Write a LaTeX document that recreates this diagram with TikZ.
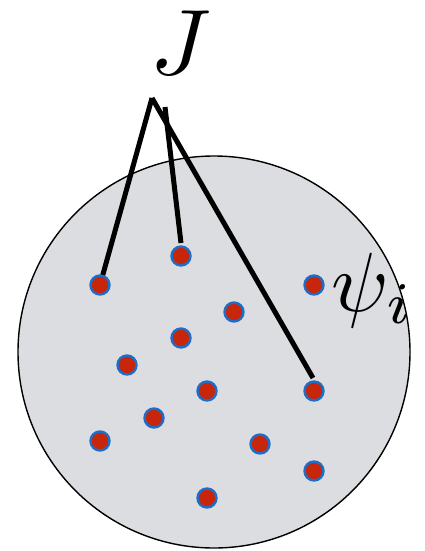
\documentclass[tikz,border=0pt]{standalone}
\usetikzlibrary{calc}
\definecolor{pointred}{RGB}{200,38,10}
\definecolor{pointblue}{RGB}{28,110,200}
\definecolor{ballgray}{RGB}{220,221,224}
\begin{document}
\begin{tikzpicture}[
  x=1pt,y=-1pt,
  point/.style={
    circle,
    fill=pointred,
    draw=pointblue,
    line width=2.4pt,
    minimum size=19pt,
    inner sep=0pt
  },
  link/.style={line width=5pt},
  biglabel/.style={inner sep=0pt}
]
\useasboundingbox (0,0) rectangle (425,551);
\node[circle, draw, fill=ballgray, line width=1.4pt, minimum size=392pt, inner sep=0pt] (ball) at (214,352) {};
% positions of the points
\foreach \px/\py [count=\i] in {100/285, 181/256, 234/312, 314/285, 181/338, 127/365, 207/391, 314/391, 154/418, 100/441, 260/444, 314/471, 207/498}
  \coordinate (c\i) at (\px,\py);
\coordinate (apex) at (152,98);
\coordinate (bend) at (165,107);
\draw[link] (apex) -- (c1);
\draw[link] (bend) -- ($(c2)+(0,-13)$);
\draw[link] (apex) -- ($(c8)+(-1,-13)$);
\foreach \i in {1,...,13}
  \node[point] (p\i) at (c\i) {};
\node[biglabel, scale=9.3] (J) at (181,43) {$J$};
\node[biglabel, scale=8.4, anchor=base west] (psi) at (330,311) {$\psi_i$};
\end{tikzpicture}
\end{document}
